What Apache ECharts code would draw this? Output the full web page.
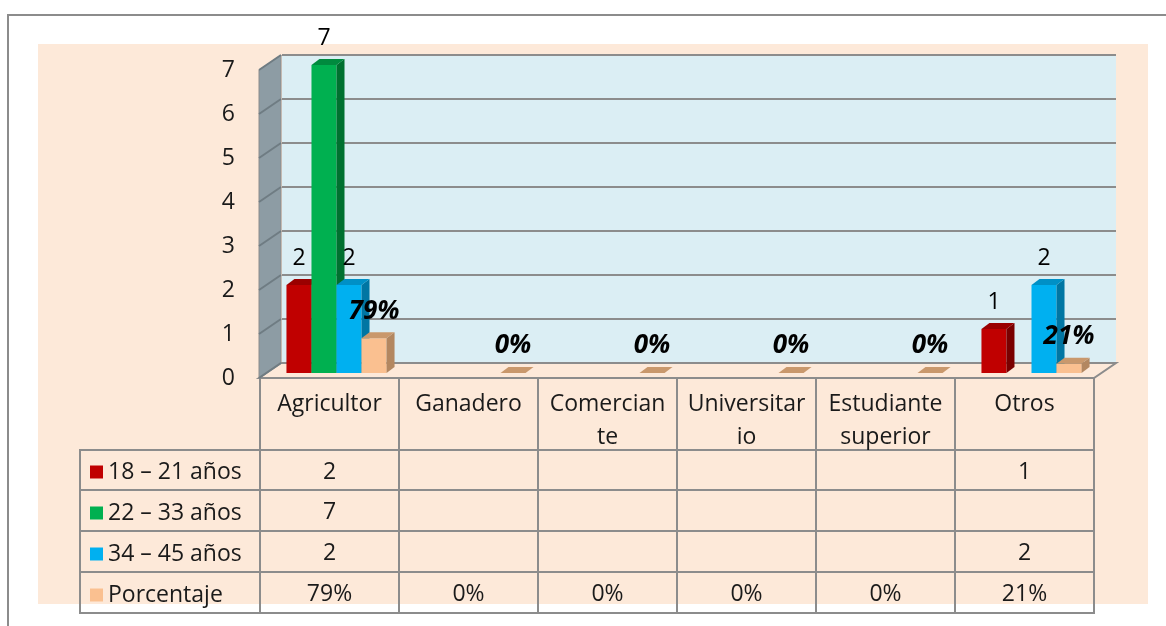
<!DOCTYPE html>
<html>
<head>
<meta charset="utf-8">
<script src="https://cdn.jsdelivr.net/npm/echarts@6/dist/echarts.min.js"></script>
<style>
  html, body { margin: 0; padding: 0; background: #fff; }
  #chart { width: 1166px; height: 626px; }
</style>
</head>
<body>
<div id="chart"></div>
<script>
// categories and header text (wrapped as in the original table)
const categories = ["Agricultor", "Ganadero", "Comerciante", "Universitario", "Estudiante superior", "Otros"];
const headerLabels = ["Agricultor", "Ganadero", "Comercian\nte", "Universitar\nio", "Estudiante\nsuperior", "Otros"];

const serieNames = ["18 – 21 años", "22 – 33 años", "34 – 45 años", "Porcentaje"];
const edad18_21 = [2, null, null, null, null, 1];
const edad22_33 = [7, null, null, null, null, null];
const edad34_45 = [2, null, null, null, null, 2];
const porcentaje = [0.79, 0, 0, 0, 0, 0.21];
const porcentajeLabels = ["79%", "0%", "0%", "0%", "0%", "21%"];
const yTicks = [0, 1, 2, 3, 4, 5, 6, 7];

const FONT = "Open Sans";
const GRAY = "#8c8c8c";
const TXT = "#1a1a1a";

const colores = [
  { front: "#c00000", top: "#9a0000", side: "#7a0000" },
  { front: "#00b050", top: "#008a3e", side: "#00702f" },
  { front: "#00b0f0", top: "#0090c6", side: "#0076a3" },
  { front: "#fac090", top: "#c9986c", side: "#b38760" }
];

// rows of the data table under the plot
const tablaFilas = [
  edad18_21.map((v) => (v == null ? "" : String(v))),
  edad22_33.map((v) => (v == null ? "" : String(v))),
  edad34_45.map((v) => (v == null ? "" : String(v))),
  porcentajeLabels
];
const filaOffsets = [72, 112, 153, 194, 235];

const chart = echarts.init(document.getElementById("chart"));

function renderParedes(params, api) {
  const cs = params.coordSys;
  const wx = 22, wy = -15;
  const gx = cs.x, gw = cs.width;
  const y0 = api.coord([0, 0])[1];
  const y7 = api.coord([0, 7])[1];
  const children = [];
  children.push({
    type: "rect",
    shape: { x: gx + wx, y: y7 + wy, width: gw, height: y0 - y7 },
    style: { fill: "#dbeef4" }
  });
  children.push({
    type: "polygon",
    shape: { points: [[gx - 1, y0], [gx - 1, y7], [gx - 1 + wx, y7 + wy], [gx - 1 + wx, y0 + wy]] },
    style: { fill: "#8d9ca4", stroke: GRAY, lineWidth: 1 }
  });
  children.push({
    type: "polygon",
    shape: { points: [[gx - 1, y0], [gx - 1 + wx, y0 + wy], [gx + gw + wx, y0 + wy], [gx + gw, y0]] },
    style: { fill: "#fde9d9", stroke: GRAY, lineWidth: 2 }
  });
  yTicks.forEach((t) => {
    const y = api.coord([0, t])[1];
    children.push({
      type: "line",
      shape: { x1: gx + wx, y1: y + wy, x2: gx + gw + wx, y2: y + wy },
      style: { stroke: GRAY, lineWidth: 2 }
    });
    children.push({
      type: "line",
      shape: { x1: gx - 1, y1: y, x2: gx - 1 + wx, y2: y + wy },
      style: { stroke: "#6f7c83", lineWidth: 2 }
    });
  });
  return { type: "group", children: children };
}

function barra(slot) {
  const col = colores[slot];
  return function (params, api) {
    const v = api.value(1);
    if (v == null || isNaN(v)) return;
    const idx = api.value(0);
    const band = api.size([1, 0])[0];
    const base = api.coord([idx, 0]);
    const top = api.coord([idx, v]);
    const bw = band * 0.18;
    const x0 = base[0] - band / 2 + band * 0.14 + slot * bw + 7;
    const x1 = x0 + bw;
    const yb = base[1] - 5;
    const yt = top[1] - 5;
    const dx = 8, dy = -6;
    const children = [];
    if (yb - yt > 0.5) {
      children.push({ type: "rect", shape: { x: x0, y: yt, width: bw, height: yb - yt }, style: { fill: col.front } });
      children.push({
        type: "polygon",
        shape: { points: [[x1, yt], [x1 + dx, yt + dy], [x1 + dx, yb + dy], [x1, yb]] },
        style: { fill: col.side }
      });
    }
    children.push({
      type: "polygon",
      shape: { points: [[x0, yt], [x1, yt], [x1 + dx, yt + dy], [x0 + dx, yt + dy]] },
      style: { fill: col.top }
    });
    const esPct = slot === 3;
    children.push({
      type: "text",
      z2: 50,
      style: {
        text: esPct ? porcentajeLabels[idx] : String(v),
        x: x0 + bw / 2,
        y: yt - 27,
        align: "center",
        verticalAlign: "middle",
        fontFamily: FONT,
        fontSize: esPct ? 26 : 23,
        fontWeight: esPct ? "bold" : "normal",
        fontStyle: esPct ? "italic" : "normal",
        fill: "#000"
      }
    });
    return { type: "group", children: children };
  };
}

const seriesDatos = [edad18_21, edad22_33, edad34_45, porcentaje];

const xAxes = [
  {
    type: "category",
    data: categories,
    gridIndex: 0,
    position: "bottom",
    axisLine: { show: true, lineStyle: { color: GRAY, width: 2 } },
    axisTick: { show: true, interval: 0, length: 236, lineStyle: { color: GRAY, width: 2 } },
    axisLabel: {
      interval: 0,
      margin: 10,
      fontFamily: FONT,
      fontSize: 23,
      lineHeight: 33,
      color: TXT,
      formatter: (v, i) => headerLabels[i]
    },
    splitLine: { show: false }
  }
];
filaOffsets.forEach((off, r) => {
  xAxes.push({
    type: "category",
    data: categories,
    gridIndex: 0,
    position: "bottom",
    offset: off,
    axisLine: { show: true, lineStyle: { color: GRAY, width: 2 } },
    axisTick: { show: false },
    axisLabel: {
      show: r < tablaFilas.length,
      interval: 0,
      margin: 11,
      fontFamily: FONT,
      fontSize: 23,
      lineHeight: 23,
      color: TXT,
      formatter: (v, i) => (tablaFilas[r] ? tablaFilas[r][i] : "")
    },
    splitLine: { show: false }
  });
});

const leyendaLineas = [];
filaOffsets.forEach((off) => {
  leyendaLineas.push({
    type: "line",
    z: 10,
    shape: { x1: 80, y1: 378 + off, x2: 260, y2: 378 + off },
    style: { stroke: GRAY, lineWidth: 2 }
  });
});
leyendaLineas.push({
  type: "line",
  z: 10,
  shape: { x1: 80, y1: 378 + filaOffsets[0] - 1, x2: 80, y2: 378 + filaOffsets[filaOffsets.length - 1] + 1 },
  style: { stroke: GRAY, lineWidth: 2 }
});

chart.setOption({
  animation: false,
  backgroundColor: "#ffffff",
  graphic: [
    { type: "rect", z: -10, shape: { x: 38, y: 44, width: 1110, height: 560 }, style: { fill: "#fde9d9" } },
    { type: "polyline", z: -10, shape: { points: [[8, 626], [8, 15], [1166, 15]] }, style: { stroke: GRAY, lineWidth: 2, fill: null } }
  ].concat(leyendaLineas),
  legend: {
    data: serieNames,
    orient: "vertical",
    left: 90,
    top: 460,
    padding: 0,
    itemWidth: 13,
    itemHeight: 13,
    itemGap: 17,
    icon: "rect",
    selectedMode: false,
    textStyle: { fontFamily: FONT, fontSize: 23, lineHeight: 24, color: TXT }
  },
  grid: { left: 260, right: 72, top: 70, bottom: 248 },
  xAxis: xAxes,
  yAxis: {
    type: "value",
    min: 0,
    max: 7,
    interval: 1,
    axisLine: { show: false },
    axisTick: { show: false },
    splitLine: { show: false },
    axisLabel: { margin: 25, fontFamily: FONT, fontSize: 23, color: TXT }
  },
  series: [
    {
      type: "custom",
      name: "paredes",
      renderItem: renderParedes,
      data: [[0, 0]],
      encode: { x: 0, y: 1 },
      silent: true,
      z: 1
    }
  ].concat(
    seriesDatos.map((arr, s) => ({
      type: "custom",
      name: serieNames[s],
      renderItem: barra(s),
      itemStyle: { color: colores[s].front },
      data: arr.map((v, i) => [i, v]),
      encode: { x: 0, y: 1 },
      z: 3 + s
    }))
  )
});

window.addEventListener("resize", () => {
  chart.resize();
});
</script>
</body>
</html>
